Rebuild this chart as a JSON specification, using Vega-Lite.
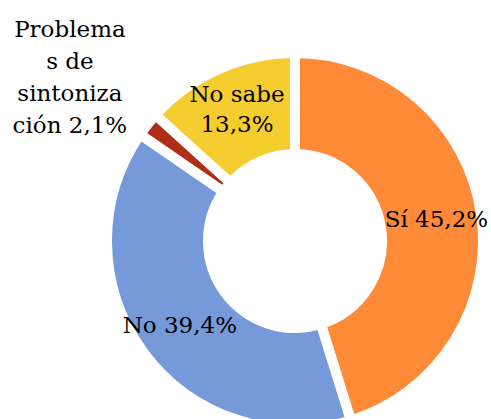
{
  "$schema": "https://vega.github.io/schema/vega-lite/v6.json",
  "width": 370,
  "height": 370,
  "autosize": {"type": "none"},
  "padding": {"left": 110, "top": 56, "right": 11, "bottom": 0},
  "background": "white",
  "view": {"stroke": null},
  "data": {
    "values": [
      {"respuesta": "Sí", "pct": 45.2, "orden": 1, "etiqueta": "Sí 45,2%"},
      {"respuesta": "No", "pct": 39.4, "orden": 2, "etiqueta": "No 39,4%"},
      {"respuesta": "Problemas de sintonización", "pct": 2.1, "orden": 3, "etiqueta": "Problema\ns de\nsintoniza\nción 2,1%"},
      {"respuesta": "No sabe", "pct": 13.3, "orden": 4, "etiqueta": "No sabe\n13,3%"}
    ]
  },
  "encoding": {
    "theta": {"field": "pct", "type": "quantitative", "stack": true},
    "order": {"field": "orden", "type": "quantitative"}
  },
  "layer": [
    {
      "mark": {"type": "arc", "outerRadius": 188, "innerRadius": 87, "stroke": "white", "strokeWidth": 10},
      "encoding": {
        "color": {
          "field": "respuesta",
          "type": "nominal",
          "scale": {
            "domain": ["Sí", "No", "Problemas de sintonización", "No sabe"],
            "range": ["#FF8A38", "#7699D9", "#B02D18", "#F5CD2E"]
          },
          "legend": null
        }
      }
    },
    {
      "mark": {"type": "text", "radius": 143, "font": "DejaVu Serif", "fontSize": 23, "align": "center", "baseline": "middle", "color": "black"},
      "encoding": {
        "text": {"condition": {"test": "datum.respuesta === 'Sí' || datum.respuesta === 'No'", "field": "etiqueta"}, "value": ""}
      }
    },
    {
      "mark": {"type": "text", "radius": 143, "dy": -15, "font": "DejaVu Serif", "fontSize": 23, "align": "center", "baseline": "middle", "lineBreak": "\n", "lineHeight": 30, "color": "black"},
      "encoding": {
        "text": {"condition": {"test": "datum.respuesta === 'No sabe'", "field": "etiqueta"}, "value": ""}
      }
    },
    {
      "mark": {"type": "text", "radius": 287, "dy": -33, "font": "DejaVu Serif", "fontSize": 23, "align": "center", "baseline": "middle", "lineBreak": "\n", "lineHeight": 32, "color": "black"},
      "encoding": {
        "text": {"condition": {"test": "datum.respuesta === 'Problemas de sintonización'", "field": "etiqueta"}, "value": ""}
      }
    }
  ]
}
